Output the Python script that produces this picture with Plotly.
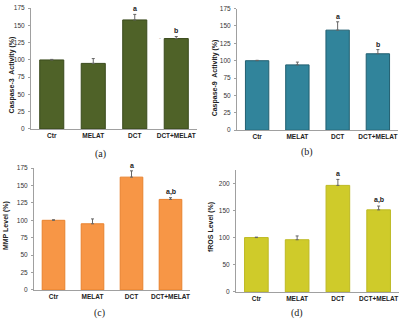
import plotly.graph_objects as go

categories = ["Ctr", "MELAT", "DCT", "DCT+MELAT"]

casp3_vals = [100, 95, 158, 131]
casp3_err = [0.8, 7, 8, 3]
casp3_marks = ["", "", "a", "b"]

casp9_vals = [100, 94, 144, 110]
casp9_err = [0.6, 4, 12, 6]
casp9_marks = ["", "", "a", "b"]

mmp_vals = [100, 95, 162, 130]
mmp_err = [0.8, 7, 9, 2.5]
mmp_marks = ["", "", "a", "a,b"]

fros_vals = [100, 96, 196, 151]
fros_err = [0.8, 7, 11, 7]
fros_marks = ["", "", "a", "a,b"]

panels = [
    dict(vals=casp3_vals, err=casp3_err, marks=casp3_marks, color="#4F6228", edge="#3A4A1C",
         title="Caspase-3  Activity (%)", ymax=175, dtick=25, label="(a)",
         xd=[31/400, 197/400], yd=[1-127.7/323, 1-4.3/323],
         tx=12, ty=73, lx=100, ly=153),
    dict(vals=casp9_vals, err=casp9_err, marks=casp9_marks, color="#31849B", edge="#215F70",
         title="Caspase-9  Activity (%)", ymax=175, dtick=25, label="(b)",
         xd=[237/400, 398/400], yd=[1-129/323, 1-4.7/323],
         tx=215, ty=76, lx=307, ly=151),
    dict(vals=mmp_vals, err=mmp_err, marks=mmp_marks, color="#F79646", edge="#E8822E",
         title="MMP Level (%)", ymax=175, dtick=25, label="(c)",
         xd=[34/400, 190/400], yd=[1-292.3/323, 1-167.7/323],
         tx=6, ty=227, lx=99, ly=316),
    dict(vals=fros_vals, err=fros_err, marks=fros_marks, color="#CFCB2A", edge="#BDB923",
         title="fROS Level (%)", ymax=225, dtick=50, label="(d)",
         xd=[236/400, 399/400], yd=[1-294.3/323, 1-169.3/323],
         tx=211, ty=228, lx=297, ly=316),
]

fig = go.Figure()
annotations = []
W, H = 400, 323
for i, p in enumerate(panels):
    n = "" if i == 0 else str(i + 1)
    xa = "x" + n
    ya = "y" + n
    fig.add_trace(go.Bar(
        x=categories, y=p["vals"], xaxis=xa, yaxis=ya,
        marker=dict(color=p["color"], line=dict(color=p["edge"], width=1)),
        width=0.58,
        error_y=dict(type="data", symmetric=False, array=p["err"],
                     arrayminus=[0] * len(p["err"]), color="#666666",
                     thickness=1, width=1.5),
        showlegend=False, hoverinfo="skip",
    ))
    fig.update_layout(**{
        "xaxis" + n: dict(domain=p["xd"], anchor=ya, showline=True, linecolor="#A0A0A0",
                          linewidth=1, ticks="outside", ticklen=0,
                          tickvals=categories,
                          ticktext=["<b>" + c + "</b>" for c in categories],
                          tickfont=dict(family="Liberation Sans", size=6.5, color="#222222"),
                          range=[-0.5, 3.5], fixedrange=True),
        "yaxis" + n: dict(domain=p["yd"], anchor=xa, range=[0, p["ymax"]], dtick=p["dtick"],
                          showline=True, linecolor="#A0A0A0", linewidth=1, showgrid=False,
                          ticks="outside", ticklen=2, tickcolor="#A0A0A0", zeroline=False,
                          tickfont=dict(family="Liberation Sans", size=6.5, color="#333333"),
                          ticklabelstandoff=2, fixedrange=True),
    })
    for c, v, e, m in zip(categories, p["vals"], p["err"], p["marks"]):
        if m:
            annotations.append(dict(x=c, y=v + e, xref=xa, yref=ya, text="<b>" + m + "</b>",
                                    showarrow=False, yanchor="bottom", yshift=0,
                                    font=dict(family="Liberation Sans", size=7, color="#222222")))
    annotations.append(dict(x=p["tx"] / W, y=1 - p["ty"] / H, xref="paper", yref="paper",
                            text="<b>" + p["title"] + "</b>", textangle=-90, showarrow=False,
                            xanchor="center", yanchor="middle",
                            font=dict(family="Liberation Sans", size=7, color="#222222")))
    annotations.append(dict(x=p["lx"] / W, y=1 - p["ly"] / H, xref="paper", yref="paper",
                            text=p["label"], showarrow=False, xanchor="center", yanchor="middle",
                            font=dict(family="Liberation Serif", size=10, color="#222222")))

# small stray dash shown left of the "b" in panel (a)
annotations.append(dict(x=160 / W, y=1 - 30 / H, xref="paper", yref="paper", text="-",
                        showarrow=False, font=dict(family="Liberation Sans", size=6, color="#999999")))

fig.update_layout(
    width=W, height=H, margin=dict(l=0, r=0, t=0, b=0),
    paper_bgcolor="white", plot_bgcolor="white",
    annotations=annotations, bargap=0.42,
)
fig.write_html("out.html", config={"displayModeBar": False},
               post_script="document.body.style.margin='0';document.body.style.overflow='hidden';")
